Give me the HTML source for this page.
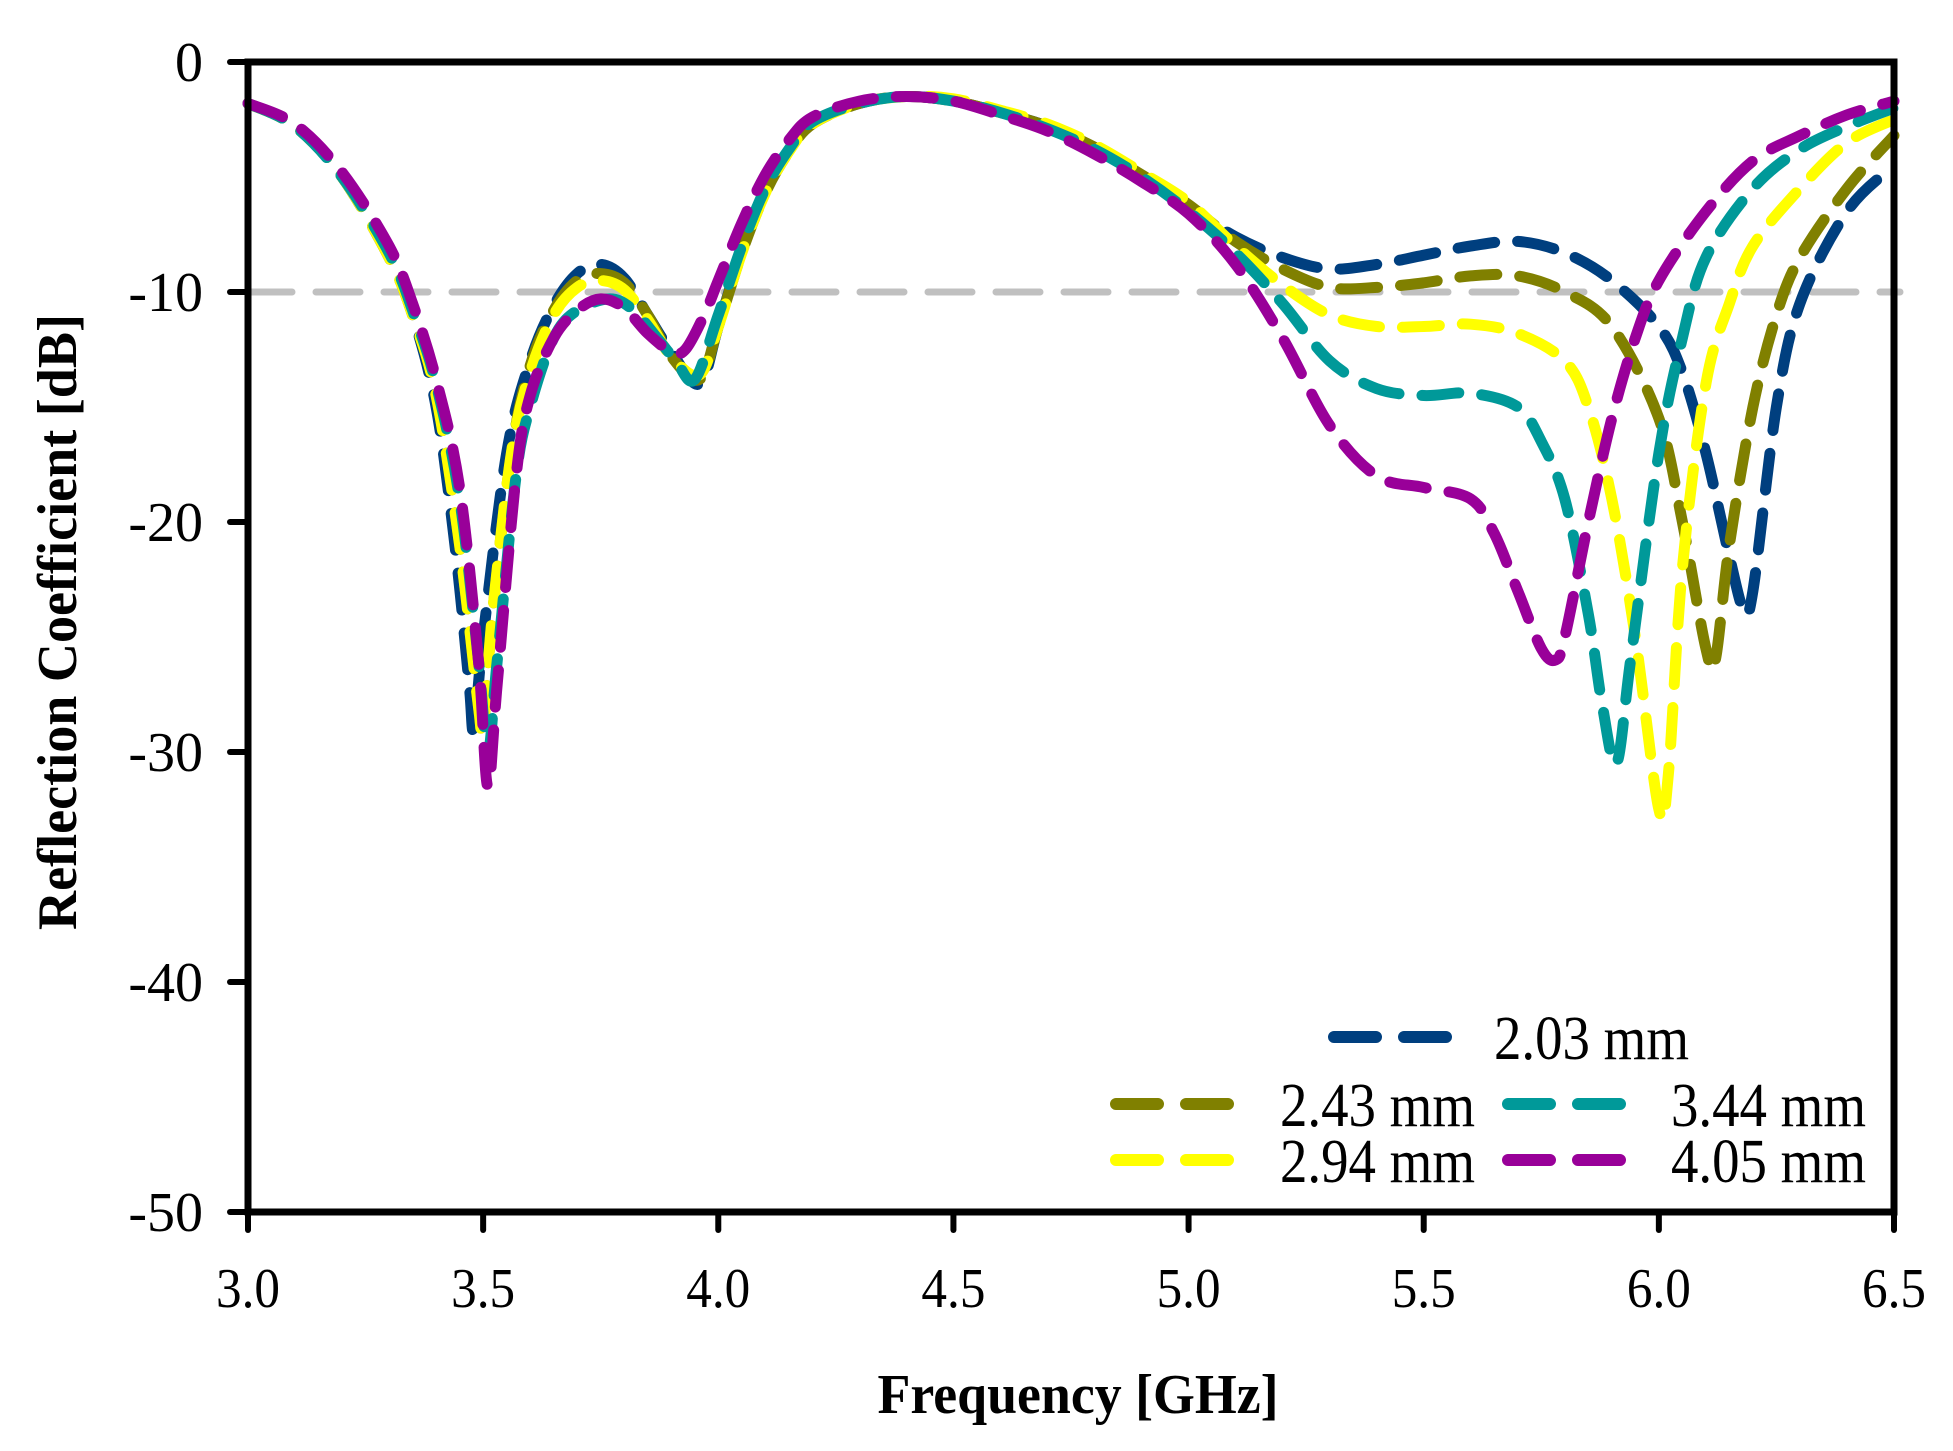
<!DOCTYPE html>
<html><head><meta charset="utf-8"><style>
html,body{margin:0;padding:0;background:#fff;}
svg{display:block;}
text{font-family:"Liberation Serif",serif;fill:#000;}
</style></head><body>
<svg id="chart" width="1953" height="1451" viewBox="0 0 1953 1451" xmlns="http://www.w3.org/2000/svg">
<g id="grid"></g>
<g id="series"></g>
<g id="axes"></g>
<g id="legend"></g>
<text x="1078" y="1413" text-anchor="middle" font-size="56" font-weight="bold" textLength="401" lengthAdjust="spacingAndGlyphs">Frequency [GHz]</text>
<text transform="translate(76,622) rotate(-90)" text-anchor="middle" font-size="56" font-weight="bold" textLength="616" lengthAdjust="spacingAndGlyphs">Reflection Coefficient [dB]</text>
</svg>
<script>
const xTicks = [3.0, 3.5, 4.0, 4.5, 5.0, 5.5, 6.0, 6.5];
const xTickLabels = ["3.0","3.5","4.0","4.5","5.0","5.5","6.0","6.5"];
const yTicks = [0, -10, -20, -30, -40, -50];
const yTickLabels = ["0","-10","-20","-30","-40","-50"];
const refLevel = -10;

const seriesNames = ["2.03 mm","2.43 mm","2.94 mm","3.44 mm","4.05 mm"];
const seriesColors = ["#003f7f","#808000","#ffff00","#009999","#990099"];

const fNavy = [3.0,3.1,3.2,3.3,3.35,3.4,3.44,3.47,3.48,3.5,3.55,3.6,3.65,3.7,3.75,3.8,3.85,3.9,3.96,4.0,4.05,4.1,4.15,4.2,4.3,4.4,4.5,4.6,4.7,4.8,4.9,5.0,5.1,5.2,5.3,5.4,5.5,5.6,5.7,5.8,5.9,6.0,6.05,6.1,6.15,6.18,6.2,6.25,6.3,6.4,6.5];
const dNavy = [-1.8,-2.8,-5,-8.5,-11,-15,-21,-27,-29,-25,-17,-13,-10.6,-9.2,-8.8,-9.4,-11,-12.6,-14,-11.5,-8.2,-5.6,-3.8,-2.6,-1.8,-1.5,-1.7,-2.2,-2.8,-3.8,-5,-6.3,-7.6,-8.5,-9,-8.8,-8.4,-8,-7.8,-8.3,-9.5,-11.5,-13.5,-17,-21.5,-23.8,-23,-15,-10.5,-6.5,-4.5];

const fOlive = [3.0,3.1,3.2,3.3,3.35,3.4,3.45,3.49,3.5,3.52,3.56,3.6,3.65,3.7,3.75,3.8,3.85,3.9,3.96,4.0,4.05,4.1,4.15,4.2,4.3,4.4,4.5,4.6,4.7,4.8,4.9,5.0,5.1,5.2,5.3,5.4,5.5,5.6,5.7,5.8,5.9,6.0,6.05,6.1,6.12,6.15,6.2,6.25,6.3,6.4,6.5];
const dOlive = [-1.8,-2.8,-5,-8.5,-11,-14.5,-21,-28,-29,-24,-17,-13.2,-10.8,-9.5,-9.2,-9.6,-11,-12.8,-13.8,-11.5,-8.3,-5.7,-3.9,-2.7,-1.8,-1.5,-1.7,-2.2,-2.8,-3.7,-4.9,-6.2,-7.8,-9,-9.8,-9.8,-9.6,-9.3,-9.3,-10,-11.5,-15.5,-20,-25.5,-26,-21,-15,-11,-8.5,-5.5,-3.2];

const fYellow = [3.0,3.1,3.2,3.3,3.35,3.4,3.45,3.49,3.5,3.52,3.56,3.6,3.65,3.7,3.75,3.8,3.85,3.9,3.96,4.0,4.05,4.1,4.15,4.2,4.3,4.4,4.5,4.6,4.7,4.8,4.9,5.0,5.1,5.2,5.3,5.4,5.5,5.6,5.7,5.8,5.85,5.9,5.95,6.0,6.02,6.05,6.1,6.15,6.2,6.3,6.4,6.5];
const dYellow = [-1.8,-2.8,-5,-8.5,-11,-14.5,-21,-28,-29,-24,-17,-13.5,-11,-9.8,-9.5,-9.9,-11.2,-12.8,-13.6,-11.5,-8.3,-5.7,-3.9,-2.7,-1.8,-1.5,-1.6,-2.1,-2.7,-3.6,-4.8,-6.1,-8,-9.7,-11,-11.5,-11.5,-11.4,-11.8,-13,-15,-19,-25,-32.5,-31,-22,-14,-10.5,-8,-5.5,-3.5,-2.5];

const fTeal = [3.0,3.1,3.2,3.3,3.35,3.4,3.45,3.49,3.51,3.53,3.57,3.6,3.65,3.7,3.77,3.82,3.87,3.91,3.95,4.0,4.05,4.1,4.15,4.2,4.3,4.4,4.5,4.6,4.7,4.8,4.9,5.0,5.1,5.2,5.3,5.4,5.5,5.6,5.7,5.75,5.8,5.85,5.88,5.91,5.94,6.0,6.05,6.1,6.2,6.3,6.4,6.5];
const dTeal = [-1.8,-2.8,-5,-8.3,-10.8,-14,-19,-26,-30,-26,-18,-15,-12,-10.8,-10.3,-10.8,-12,-13,-13.8,-11,-8,-5.5,-3.8,-2.6,-1.8,-1.5,-1.7,-2.2,-2.9,-3.8,-5,-6.5,-8.3,-10.5,-13,-14.2,-14.5,-14.4,-15,-16.5,-19,-24,-28,-30.5,-26,-17,-12,-8.5,-5.5,-3.8,-2.8,-2];

const fPurple = [3.0,3.1,3.2,3.3,3.35,3.4,3.45,3.49,3.51,3.53,3.57,3.6,3.65,3.7,3.75,3.8,3.85,3.9,3.93,3.97,4.0,4.05,4.1,4.15,4.2,4.3,4.4,4.5,4.6,4.7,4.8,4.9,5.0,5.1,5.2,5.3,5.4,5.5,5.6,5.65,5.7,5.75,5.78,5.8,5.85,5.9,5.95,6.0,6.1,6.2,6.3,6.4,6.5];
const dPurple = [-1.8,-2.7,-4.8,-8,-10.5,-13.8,-18.5,-26,-31.5,-27,-18,-14.5,-12,-10.8,-10.3,-10.7,-11.8,-12.6,-12.5,-11,-9.5,-7,-4.9,-3.4,-2.4,-1.7,-1.5,-1.7,-2.3,-3,-4,-5.2,-6.6,-8.8,-12,-15.8,-18,-18.5,-19,-20.5,-23,-25.5,-26,-25,-20,-15.5,-12,-9.5,-6.5,-4.3,-3.2,-2.3,-1.7];

const seriesF = [fNavy,fOlive,fYellow,fTeal,fPurple];
const seriesD = [dNavy,dOlive,dYellow,dTeal,dPurple];

const X0=248, X1=1894, Y0=62, Y1=1212;
const xMin=3.0, xMax=6.5, yMax=0, yMin=-50;
function sx(v){return X0+(v-xMin)/(xMax-xMin)*(X1-X0);}
function sy(v){return Y0+(yMax-v)/(yMax-yMin)*(Y1-Y0);}
const NS="http://www.w3.org/2000/svg";
function mk(tag,attrs,parent){const e=document.createElementNS(NS,tag);for(const k in attrs)e.setAttribute(k,attrs[k]);parent.appendChild(e);return e;}

function smoothPath(xs,ys){
  const p=xs.map((x,i)=>[sx(x),sy(ys[i])]);
  let d="M"+p[0][0].toFixed(1)+","+p[0][1].toFixed(1);
  for(let i=0;i<p.length-1;i++){
    const p0=p[Math.max(0,i-1)],p1=p[i],p2=p[i+1],p3=p[Math.min(p.length-1,i+2)];
    const t=6;
    const c1=[p1[0]+(p2[0]-p0[0])/t,p1[1]+(p2[1]-p0[1])/t];
    const c2=[p2[0]-(p3[0]-p1[0])/t,p2[1]-(p3[1]-p1[1])/t];
    d+=" C"+c1.map(v=>v.toFixed(1)).join(",")+" "+c2.map(v=>v.toFixed(1)).join(",")+" "+p2.map(v=>v.toFixed(1)).join(",");
  }
  return d;
}

const grid=document.getElementById("grid");
const ref=mk("line",{x1:X0,x2:X1+6,y1:sy(refLevel),y2:sy(refLevel),stroke:"#c0c0c0","stroke-width":7,"stroke-dasharray":"44 24","stroke-linecap":"round"},grid);



const sg=document.getElementById("series");
seriesF.forEach((fs,i)=>{
  const path=mk("path",{d:smoothPath(fs,seriesD[i]),fill:"none",stroke:seriesColors[i],"stroke-width":11,"stroke-dasharray":"37 23","stroke-linecap":"round","stroke-linejoin":"round"},sg);
  
  
});

const ax=document.getElementById("axes");
const frame=mk("rect",{x:X0,y:Y0,width:X1-X0,height:Y1-Y0,fill:"none",stroke:"#000","stroke-width":7},ax);


xTicks.forEach((v,i)=>{
  const t=mk("line",{x1:sx(v),x2:sx(v),y1:Y1,y2:Y1+18,stroke:"#000","stroke-width":6,"stroke-linecap":"round"},ax);
  
  
  const l=mk("text",{x:sx(v),y:1307,"text-anchor":"middle","font-size":56,textLength:64,lengthAdjust:"spacingAndGlyphs"},ax);
  l.textContent=xTickLabels[i];
  
  
});
yTicks.forEach((v,i)=>{
  const t=mk("line",{x1:X0-18,x2:X0,y1:sy(v),y2:sy(v),stroke:"#000","stroke-width":6,"stroke-linecap":"round"},ax);
  
  
  const l=mk("text",{x:203,y:sy(v)+19,"text-anchor":"end","font-size":56},ax);
  l.textContent=yTickLabels[i];
  
  
});

const lg=document.getElementById("legend");
const legendPos=[[1334,1037,1494,"start"],[1116,1104,1280,"start"],[1116,1160,1280,"start"],[1508,1104,1866,"end"],[1508,1160,1866,"end"]];
seriesNames.forEach((n,i)=>{
  const [lx,ly,tx,anc]=legendPos[i];
  const s=mk("line",{x1:lx,x2:lx+112,y1:ly,y2:ly,stroke:seriesColors[i],"stroke-width":12,"stroke-dasharray":"42 28","stroke-linecap":"round"},lg);
  
  
  const t=mk("text",{x:tx,y:ly+22,"text-anchor":anc,"font-size":62,textLength:195,lengthAdjust:"spacingAndGlyphs"},lg);
  t.textContent=n;
  
  
});
</script>
</body></html>
